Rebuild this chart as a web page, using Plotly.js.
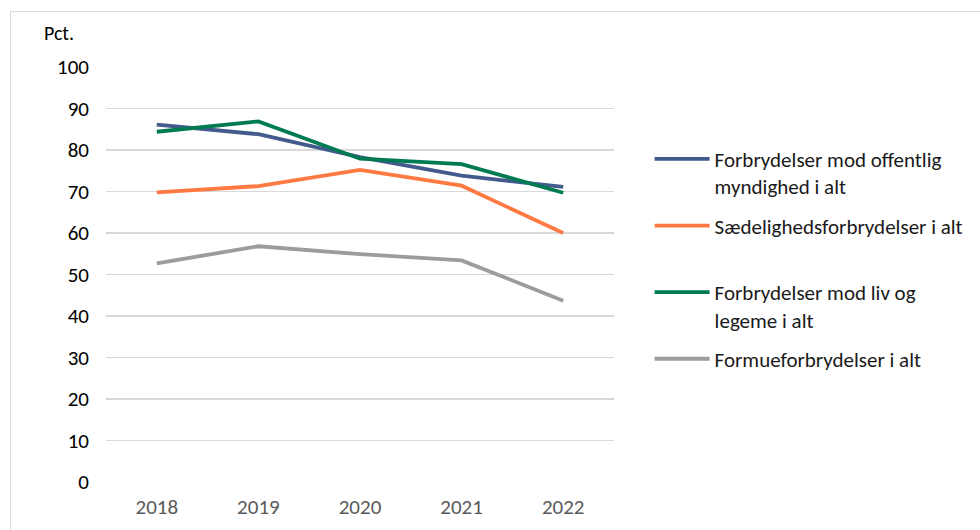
<!DOCTYPE html>
<html>
<head>
<meta charset="utf-8">
<script src="https://cdn.plot.ly/plotly-3.0.1.min.js"></script>
<style>
  html, body { margin: 0; padding: 0; background: #ffffff; }
  #chart { width: 980px; height: 530px; }
  #frame { position: absolute; left: 10px; top: 11px; width: 975px; height: 530px;
           border: 1px solid #d9d9d9; box-sizing: border-box; pointer-events: none; }
</style>
</head>
<body>
<div id="chart"></div>
<div id="frame"></div>
<script>
const years = ["2018", "2019", "2020", "2021", "2022"];
const seriesNames = [
  "Forbrydelser mod offentlig<br>myndighed i alt",
  "Sædelighedsforbrydelser i alt<br> ",
  "Forbrydelser mod liv og<br>legeme i alt",
  "Formueforbrydelser i alt<br> "
];
const offentligMyndighed = [86.1, 83.8, 78.3, 73.8, 71.1];
const saedelighed = [69.8, 71.3, 75.2, 71.4, 60.0];
const livOgLegeme = [84.4, 86.9, 77.9, 76.6, 69.7];
const formue = [52.7, 56.8, 54.9, 53.4, 43.7];
const yTicks = [0, 10, 20, 30, 40, 50, 60, 70, 80, 90, 100];

const colors = ["#435A8C", "#FF7A43", "#007A52", "#9C9C9C"];
const values = [offentligMyndighed, saedelighed, livOgLegeme, formue];

const traces = values.map((v, i) => ({
  type: "scatter",
  mode: "lines",
  x: years,
  y: v,
  name: seriesNames[i],
  legendgroup: "g" + i,
  line: { color: colors[i], width: 3.8 },
  hoverinfo: "x+y"
}));

const font = "Calibri, Carlito, Lato, sans-serif";

const layout = {
  width: 980,
  height: 530,
  margin: { l: 106, r: 365, t: 67, b: 48 },
  paper_bgcolor: "#ffffff",
  plot_bgcolor: "#ffffff",
  font: { family: font, size: 21, color: "#000000" },
  showlegend: true,
  legend: {
    x: 1.068, xanchor: "left",
    y: 0.827, yanchor: "top",
    valign: "top",
    traceorder: "grouped",
    tracegroupgap: 9,
    itemwidth: 55,
    font: { family: font, size: 21, color: "#1a1a1a" },
    bgcolor: "rgba(0,0,0,0)"
  },
  xaxis: {
    type: "category",
    range: [-0.5, 4.5],
    showgrid: false,
    zeroline: false,
    showline: false,
    ticks: "",
    ticklabelstandoff: 10,
    tickfont: { family: font, size: 21, color: "#595959" }
  },
  yaxis: {
    range: [0, 100],
    tickvals: yTicks,
    ticktext: yTicks.map(String),
    showgrid: true,
    gridcolor: "#d9d9d9",
    gridwidth: 1.5,
    zeroline: false,
    showline: false,
    ticks: "",
    ticklabelstandoff: 16,
    tickfont: { family: font, size: 21, color: "#000000" }
  },
  annotations: [{
    text: "Pct.",
    xref: "paper", yref: "paper",
    x: (42 - 106) / 509, xanchor: "left",
    y: 1 + (67.5 - 34) / 414, yanchor: "middle",
    showarrow: false,
    font: { family: font, size: 20, color: "#000000" }
  }]
};

Plotly.newPlot("chart", traces, layout, { displayModeBar: false, staticPlot: true });
</script>
</body>
</html>
